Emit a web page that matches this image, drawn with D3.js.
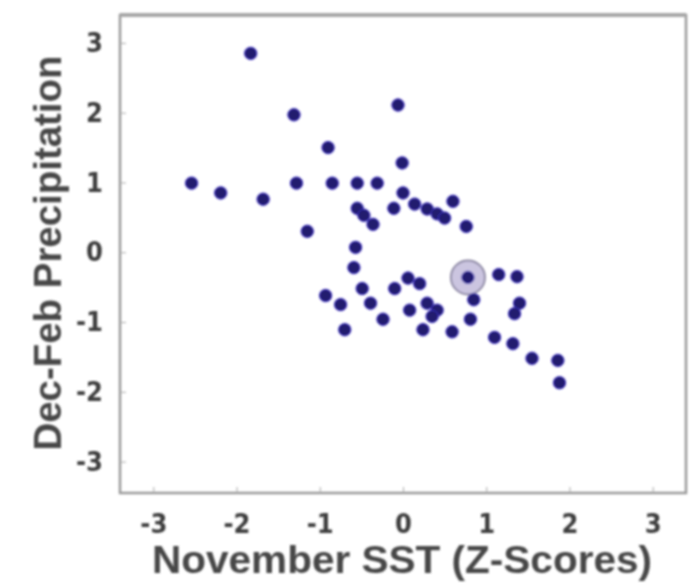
<!DOCTYPE html>
<meta charset="utf-8">
<script src="https://d3js.org/d3.v7.min.js"></script>
<style>
body { margin: 0; background: #fff; }
text { fill: #474747; font-weight: bold; }
.tick-label { font-family: "DejaVu Sans Condensed", "Liberation Sans Narrow", sans-serif; font-size: 27px; fill: #3c3c3c; }
.axis-title { font-family: "Liberation Sans", Arial, sans-serif; font-size: 39px; }
</style>
<body>
<div id="chart"></div>
<script>
// November SST anomaly (z-score) for each year
var sst = [-1.83, -1.31, -0.06, -0.90, -0.01, -2.54, -2.19, -1.68, -1.28, -0.85,
           -0.55, -0.31, 0.00, 0.60, 0.14, 0.29, 0.41, 0.50, -0.11, 0.76,
           -0.55, -0.47, -0.36, -1.15, -0.57, -0.59, -0.49, -0.39, -0.24, -0.93,
           -0.75, -0.70, -0.10, 0.06, 0.20, 0.08, 0.29, 0.41, 0.35, 0.24,
           0.59, 0.81, 0.78, 0.85, 1.15, 1.37, 1.40, 1.34, 1.10, 1.32,
           1.55, 1.86, 1.88]
// Dec-Feb precipitation (z-score), same order
var precip = [2.85, 1.97, 2.11, 1.50, 1.28, 0.99, 0.85, 0.76, 0.99, 0.99,
              0.99, 0.99, 0.85, 0.73, 0.69, 0.62, 0.55, 0.49, 0.63, 0.37,
              0.63, 0.53, 0.40, 0.30, 0.07, -0.22, -0.52, -0.73, -0.96, -0.62,
              -0.75, -1.11, -0.52, -0.37, -0.45, -0.83, -0.73, -0.83, -0.92, -1.11,
              -1.14, -0.96, -0.36, -0.68, -0.32, -0.35, -0.73, -0.88, -1.22, -1.31,
              -1.52, -1.55, -1.87]
var highlightIndex = 42
var xTicks = [-3, -2, -1, 0, 1, 2, 3]
var yTicks = [-3, -2, -1, 0, 1, 2, 3]

var data = sst.map(function(d, i) { return {x: d, y: precip[i]} })

var W = 695, H = 586
var plot = {left: 120, right: 686, top: 15, bottom: 493}

var svg = d3.select("#chart").append("svg")
  .attr("width", W).attr("height", H)

var defs = svg.append("defs")
defs.append("filter").attr("id", "soft")
  .attr("x", "-5%").attr("y", "-5%").attr("width", "110%").attr("height", "110%")
  .append("feGaussianBlur").attr("stdDeviation", 1.2)

var g = svg.append("g").attr("filter", "url(#soft)")

var x = d3.scaleLinear().domain([-3.4, 3.4]).range([plot.left, plot.right])
var y = d3.scaleLinear().domain([-3.45, 3.4]).range([plot.bottom, plot.top])

// frame
g.append("rect")
  .attr("x", plot.left).attr("y", plot.top)
  .attr("width", plot.right - plot.left).attr("height", plot.bottom - plot.top)
  .attr("fill", "none").attr("stroke", "#9a9a9a").attr("stroke-width", 2.5)
g.append("line")
  .attr("x1", plot.left).attr("x2", plot.right)
  .attr("y1", plot.top).attr("y2", plot.top)
  .attr("stroke", "#a8a8a8").attr("stroke-width", 4)

// axes (ticks inside the box, MATLAB style)
var fmt = function(d) { return d < 0 ? "-" + Math.abs(d) : d }
var xAxis = d3.axisBottom(x).tickValues(xTicks).tickSizeInner(-6).tickSizeOuter(0).tickFormat(fmt)
var yAxis = d3.axisLeft(y).tickValues(yTicks).tickSizeInner(-6).tickSizeOuter(0).tickFormat(fmt)

var gx = g.append("g").attr("transform", "translate(0," + plot.bottom + ")").call(xAxis)
gx.select(".domain").remove()
gx.selectAll("line").attr("stroke", "#aaa")
gx.selectAll("text").attr("class", "tick-label").attr("y", 40).attr("dy", 0)

var gy = g.append("g").attr("transform", "translate(" + plot.left + ",0)").call(yAxis)
gy.select(".domain").remove()
gy.selectAll("line").attr("stroke", "#aaa")
gy.selectAll("text").attr("class", "tick-label").attr("x", -17)

// highlighted year
g.append("circle")
  .attr("cx", x(data[highlightIndex].x)).attr("cy", y(data[highlightIndex].y))
  .attr("r", 17)
  .attr("fill", "#cbc5e0").attr("stroke", "#8f8aa6").attr("stroke-width", 2)

g.selectAll(".pt")
  .data(data).enter()
  .append("circle")
    .attr("class", "pt")
    .attr("cx", function(d) { return x(d.x) })
    .attr("cy", function(d) { return y(d.y) })
    .attr("r", 6.2)
    .attr("fill", "#241d6e")
    .attr("stroke", "#3a2fc4")
    .attr("stroke-width", 1)

// titles
g.append("text")
  .attr("class", "axis-title")
  .attr("x", 402).attr("y", 573)
  .attr("text-anchor", "middle")
  .attr("textLength", 500).attr("lengthAdjust", "spacingAndGlyphs")
  .text("November SST (Z-Scores)")

g.append("text")
  .attr("class", "axis-title")
  .attr("transform", "translate(61,253) rotate(-90)")
  .attr("text-anchor", "middle")
  .attr("textLength", 395).attr("lengthAdjust", "spacingAndGlyphs")
  .text("Dec-Feb Precipitation")
</script>
</body>
